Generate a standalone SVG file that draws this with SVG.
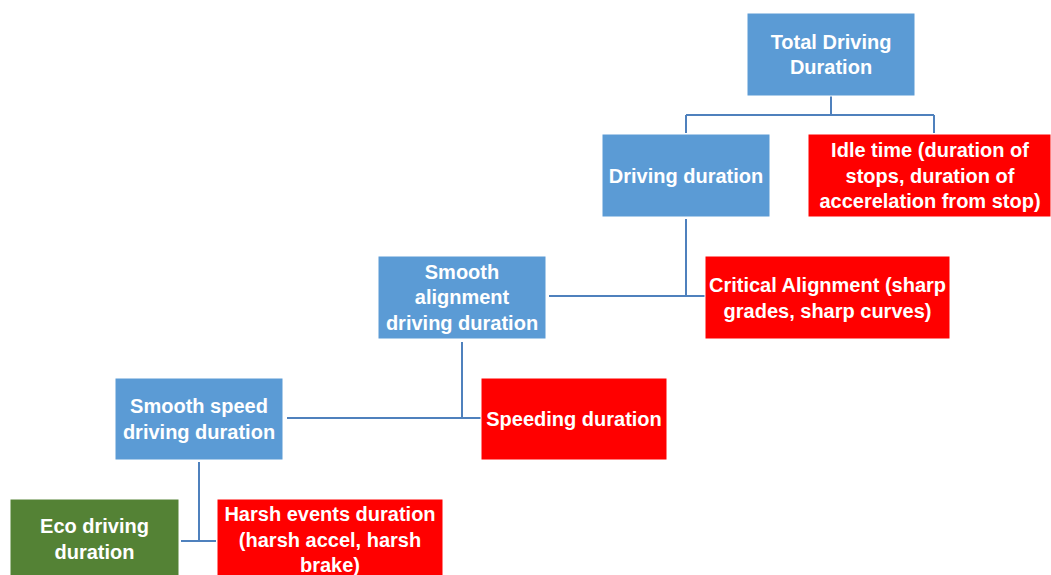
<svg xmlns="http://www.w3.org/2000/svg" width="1051" height="575" viewBox="0 0 1051 575">
<style>
.box{stroke:#ffffff;stroke-width:1}
.blue{fill:#5B9BD5}
.red{fill:#FF0000}
.green{fill:#548235}
text{font-family:"Liberation Sans",Arial,sans-serif;font-weight:bold;font-size:20px;fill:#ffffff;text-anchor:middle}
.conn{stroke:#4F81BD;stroke-width:2;fill:none}
</style>
<rect width="1051" height="575" fill="#ffffff"/>
<g id="connectors">
<path class="conn" d="M831,96 V115 M686,115 H934 M686,115 V133 M934,115 V133"/>
<path class="conn" d="M686,219 V296 M549,296 H705"/>
<path class="conn" d="M462,342 V418 M287,418 H481"/>
<path class="conn" d="M199,462 V541 M181,541 H216"/>
</g>
<g id="total">
<rect class="box blue" x="747" y="13" width="168" height="83"/>
<text x="831" y="49">Total Driving</text>
<text x="831" y="74">Duration</text>
</g>
<g id="driving">
<rect class="box blue" x="602" y="134" width="168" height="83"/>
<text x="686" y="182.5">Driving duration</text>
</g>
<g id="idle">
<rect class="box red" x="808" y="134" width="243" height="83"/>
<text x="930" y="157">Idle time (duration of</text>
<text x="930" y="182.5">stops, duration of</text>
<text x="930" y="208">accerelation from stop)</text>
</g>
<g id="smooth-alignment">
<rect class="box blue" x="378" y="256" width="168" height="83"/>
<text x="462" y="278.5">Smooth</text>
<text x="462" y="304">alignment</text>
<text x="462" y="329.5">driving duration</text>
</g>
<g id="critical">
<rect class="box red" x="705" y="256" width="245" height="83"/>
<text x="827.5" y="292">Critical Alignment (sharp</text>
<text x="827.5" y="317.5">grades, sharp curves)</text>
</g>
<g id="smooth-speed">
<rect class="box blue" x="115" y="378" width="168" height="82"/>
<text x="199" y="413">Smooth speed</text>
<text x="199" y="438.5">driving duration</text>
</g>
<g id="speeding">
<rect class="box red" x="481" y="378" width="186" height="82"/>
<text x="574" y="426">Speeding duration</text>
</g>
<g id="eco">
<rect class="box green" x="10" y="499" width="169" height="84"/>
<text x="94.5" y="533">Eco driving</text>
<text x="94.5" y="558.5">duration</text>
</g>
<g id="harsh">
<rect class="box red" x="217" y="499" width="226" height="84"/>
<text x="330" y="521">Harsh events duration</text>
<text x="330" y="546.5">(harsh accel, harsh</text>
<text x="330" y="572">brake)</text>
</g>
</svg>
